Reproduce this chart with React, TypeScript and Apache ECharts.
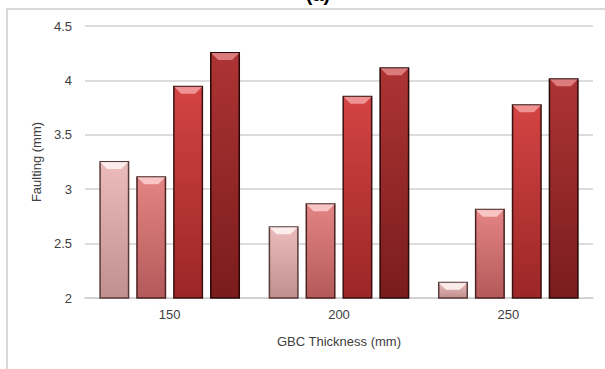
import React, { useEffect, useRef } from "react";
import * as echarts from "echarts";

const categories = ["150", "200", "250"];
const seriesA = [3.26, 2.66, 2.15];
const seriesB = [3.12, 2.87, 2.82];
const seriesC = [3.95, 3.86, 3.78];
const seriesD = [4.26, 4.12, 4.02];
const yTicks = [2, 2.5, 3, 3.5, 4, 4.5];

const palette = [
  { top: "#ecbcbc", bottom: "#c09090", border: "#5a3a3a", hi: "#fff4f4" },
  { top: "#e48484", bottom: "#b45a5a", border: "#4a2020", hi: "#fcd0d0" },
  { top: "#d44444", bottom: "#9c2626", border: "#3a1010", hi: "#f5a0a0" },
  { top: "#ad3434", bottom: "#7a1c1c", border: "#2a0808", hi: "#e48888" },
];

function grad(top: string, bottom: string) {
  return new echarts.graphic.LinearGradient(0, 0, 0, 1, [
    { offset: 0, color: top },
    { offset: 1, color: bottom },
  ]);
}

export default function App() {
  const ref = useRef<HTMLDivElement>(null);
  useEffect(() => {
    if (!ref.current) return;
    const chart = echarts.init(ref.current, null, { renderer: "svg" });
    const all = [seriesA, seriesB, seriesC, seriesD];
    const font = "Liberation Sans";
    const BW = 30;
    const PITCH = 37;
    const barSeries = all.map((d, i) => ({
      type: "bar",
      data: d,
      barWidth: BW,
      barGap: "23%",
      itemStyle: {
        color: grad(palette[i].top, palette[i].bottom),
        borderColor: palette[i].border,
        borderWidth: 1.5,
      },
    }));
    const bevelSeries = all.map((d, i) => ({
      type: "custom",
      coordinateSystem: "cartesian2d",
      z: 10,
      silent: true,
      encode: { x: 0, y: 1 },
      data: d.map((v, k) => [k, v]),
      renderItem: (params: any, api: any) => {
        const c = api.coord([api.value(0), api.value(1)]);
        const cx = c[0] + (i - 1.5) * PITCH;
        const x0 = cx - BW / 2 + 1;
        const x1 = cx + BW / 2 - 1;
        const y = c[1] + 1;
        const h = 7;
        return {
          type: "polygon",
          shape: {
            points: [
              [x0, y],
              [x1, y],
              [x1 - h, y + h],
              [x0 + h, y + h],
            ],
          },
          style: {
            fill: palette[i].hi,
            opacity: 0.85,
          },
        };
      },
    }));
    chart.setOption({
      animation: false,
      backgroundColor: "#ffffff",
      textStyle: { fontFamily: font },
      graphic: [
        {
          type: "rect",
          shape: { x: 7, y: 9, width: 800, height: 600 },
          style: { fill: "none", stroke: "#d9d9d9", lineWidth: 2 },
          silent: true,
          z: 0,
        },
        {
          type: "text",
          x: 318,
          y: 4,
          style: {
            text: "(a)",
            fontSize: 20,
            fontWeight: "bold",
            fill: "#000",
            align: "center",
            verticalAlign: "bottom",
            fontFamily: font,
          },
        },
      ],
      grid: { left: 85, right: 12, top: 26, bottom: 71, containLabel: false },
      xAxis: {
        type: "category",
        data: categories,
        name: "GBC Thickness (mm)",
        nameLocation: "middle",
        nameGap: 37,
        nameTextStyle: { fontSize: 13, color: "#404040", fontFamily: font },
        axisLine: { lineStyle: { color: "#d0d0d0", width: 1.5 } },
        axisTick: { show: false },
        axisLabel: { fontSize: 13, color: "#404040", margin: 10, fontFamily: font },
      },
      yAxis: {
        type: "value",
        min: 2,
        max: 4.5,
        interval: 0.5,
        name: "Faulting (mm)",
        nameLocation: "middle",
        nameGap: 42,
        nameRotate: 90,
        nameTextStyle: { fontSize: 13, color: "#404040", fontFamily: font },
        axisLine: { show: false },
        axisTick: { show: false },
        axisLabel: {
          fontSize: 13,
          color: "#404040",
          margin: 13,
          fontFamily: font,
          formatter: (v: number) => (yTicks.includes(v) ? String(v) : ""),
        },
        splitLine: { lineStyle: { color: "#d0d0d0", width: 1.5 } },
      },
      series: [...barSeries, ...bevelSeries],
    });
    return () => chart.dispose();
  }, []);
  return (
    <div
      ref={ref}
      style={{ position: "fixed", left: 0, top: 0, width: 605, height: 369 }}
    />
  );
}
